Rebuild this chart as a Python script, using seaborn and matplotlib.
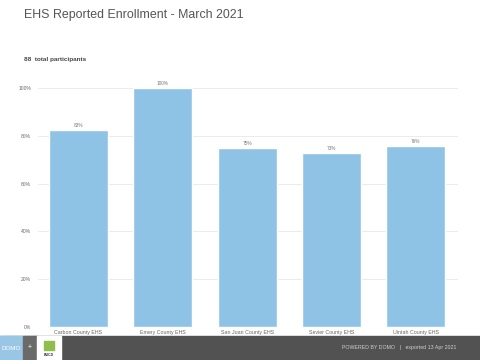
import matplotlib
matplotlib.use("Agg")
import matplotlib.pyplot as plt
from matplotlib.patches import Rectangle
import seaborn as sns
import pandas as pd

categories = ["Carbon County EHS", "Emery County EHS", "San Juan County EHS",
              "Sevier County EHS", "Uintah County EHS"]
values = [82.5, 100, 75, 72.8, 75.8]
value_labels = ["83%", "100%", "75%", "73%", "76%"]
yticks = [0, 20, 40, 60, 80, 100]
ytick_labels = ["0%", "20%", "40%", "60%", "80%", "100%"]
title = "EHS Reported Enrollment - March 2021"
subtitle = "88  total participants"
footer = "POWERED BY DOMO   |   exported 13 Apr 2021"

sns.set_theme(style="white")
plt.rcParams['font.family'] = ['Liberation Sans', 'DejaVu Sans']

df = pd.DataFrame({"cat": categories, "val": values})

fig = plt.figure(figsize=(4.8, 3.6), dpi=100)
ax = fig.add_axes([38/480, 1-327/360, (458-38)/480, (327-88)/360])
sns.barplot(data=df, x="cat", y="val", color="#8ec3e6", width=0.7,
            saturation=1, ax=ax, zorder=2)
ax.set_ylim(0, 100)
ax.set_xlim(-0.48, 4.5)
ax.set_yticks(yticks)
ax.set_yticklabels(ytick_labels, fontsize=3.6, color="#666666")
ax.tick_params(axis='x', labelsize=3.8, colors="#666666", length=0, pad=2)
ax.tick_params(axis='y', length=0, pad=5)
for lbl in ax.get_xticklabels():
    lbl.set_color("#666666")
ax.set_xlabel("")
ax.set_ylabel("")
ax.grid(axis='y', color="#e8e8e8", linewidth=0.6, zorder=0)
for s in ax.spines.values():
    s.set_visible(False)
ax.axhline(0, color="#dddddd", linewidth=0.6, zorder=3)
for i, (v, t) in enumerate(zip(values, value_labels)):
    ax.text(i, v + 0.8, t, ha="center", va="bottom", fontsize=3.4, color="#777777")

fig.text(24/480, 1-15/360, title, fontsize=8.9, color="#555555", va="center", ha="left")
fig.text(24/480, 1-60/360, subtitle, fontsize=4.6, color="#444444", va="center",
         ha="left", fontweight="bold")

# footer bar
fig.patches.append(Rectangle((0, 0), 1, 24/360, transform=fig.transFigure,
                             color="#525252", zorder=0))
fig.patches.append(Rectangle((0, 0), 23/480, 24/360, transform=fig.transFigure,
                             color="#9ac6e6", zorder=1))
fig.patches.append(Rectangle((23/480, 0), 14/480, 24/360, transform=fig.transFigure,
                             color="#6a6a6a", zorder=1))
fig.patches.append(Rectangle((37/480, 0), 24/480, 24/360, transform=fig.transFigure,
                             color="#ffffff", zorder=1))
fig.text(11/480, 12/360, "DOMO", fontsize=4.5, color="white", ha="center", va="center")
fig.text(30/480, 12/360, "+", fontsize=5, color="white", ha="center", va="center")
fig.text(49/480, 5/360, "BUCD", fontsize=2.5, color="#333333", ha="center", va="center",
         fontweight="bold")
fig.patches.append(Rectangle((44/480, 10/360), 10/480, 9/360, transform=fig.transFigure,
                             color="#8fbf4a", zorder=2))
fig.text(456/480, 12/360, footer, fontsize=3.8, color="#cfcfcf", ha="right", va="center")

fig.savefig("out.png", dpi=100)
